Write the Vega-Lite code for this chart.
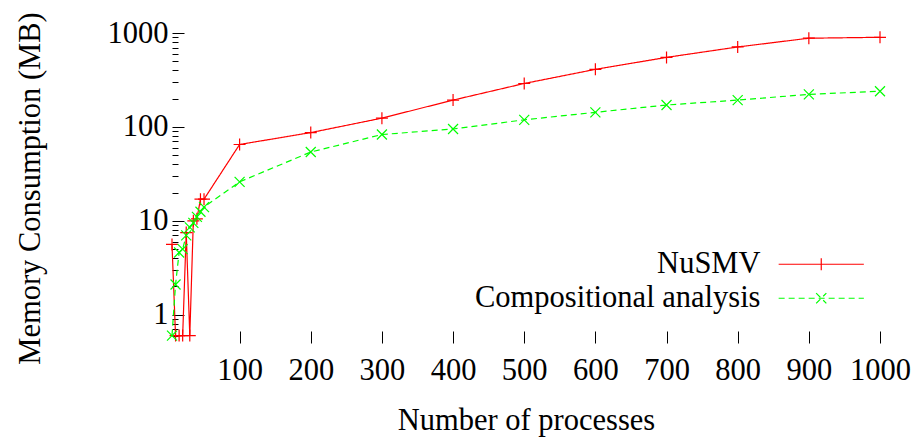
{
  "$schema": "https://vega.github.io/schema/vega-lite/v6.json",
  "autosize": {"type": "none"},
  "padding": {"left": 172, "top": 33, "right": 41, "bottom": 98},
  "width": 708,
  "height": 310,
  "background": "white",
  "config": {
    "view": {"stroke": null},
    "font": "Liberation Serif",
    "axis": {"labelFont": "Liberation Serif", "titleFont": "Liberation Serif", "labelFontSize": 30.5, "titleFontSize": 30.5, "titleFontWeight": "normal", "labelColor": "black", "titleColor": "black", "tickColor": "black", "grid": false, "domain": false}
  },
  "data": {"values": [
    {"n": 5, "mb": 5.6, "series": "NuSMV"},
    {"n": 10, "mb": 0.6, "series": "NuSMV"},
    {"n": 15, "mb": 0.6, "series": "NuSMV"},
    {"n": 20, "mb": 0.6, "series": "NuSMV"},
    {"n": 25, "mb": 7.5, "series": "NuSMV"},
    {"n": 30, "mb": 0.6, "series": "NuSMV"},
    {"n": 35, "mb": 10, "series": "NuSMV"},
    {"n": 40, "mb": 10.5, "series": "NuSMV"},
    {"n": 45, "mb": 17, "series": "NuSMV"},
    {"n": 50, "mb": 17, "series": "NuSMV"},
    {"n": 100, "mb": 65, "series": "NuSMV"},
    {"n": 200, "mb": 87, "series": "NuSMV"},
    {"n": 300, "mb": 124, "series": "NuSMV"},
    {"n": 400, "mb": 193, "series": "NuSMV"},
    {"n": 500, "mb": 290, "series": "NuSMV"},
    {"n": 600, "mb": 410, "series": "NuSMV"},
    {"n": 700, "mb": 550, "series": "NuSMV"},
    {"n": 800, "mb": 710, "series": "NuSMV"},
    {"n": 900, "mb": 880, "series": "NuSMV"},
    {"n": 1000, "mb": 900, "series": "NuSMV"},
    {"n": 5, "mb": 0.6, "series": "Compositional analysis"},
    {"n": 10, "mb": 2.1, "series": "Compositional analysis"},
    {"n": 15, "mb": 4.6, "series": "Compositional analysis"},
    {"n": 20, "mb": 5.0, "series": "Compositional analysis"},
    {"n": 25, "mb": 7.0, "series": "Compositional analysis"},
    {"n": 30, "mb": 8.5, "series": "Compositional analysis"},
    {"n": 35, "mb": 9.5, "series": "Compositional analysis"},
    {"n": 40, "mb": 11, "series": "Compositional analysis"},
    {"n": 45, "mb": 12.5, "series": "Compositional analysis"},
    {"n": 50, "mb": 14, "series": "Compositional analysis"},
    {"n": 100, "mb": 26, "series": "Compositional analysis"},
    {"n": 200, "mb": 54, "series": "Compositional analysis"},
    {"n": 300, "mb": 83, "series": "Compositional analysis"},
    {"n": 400, "mb": 95, "series": "Compositional analysis"},
    {"n": 500, "mb": 119, "series": "Compositional analysis"},
    {"n": 600, "mb": 143, "series": "Compositional analysis"},
    {"n": 700, "mb": 171, "series": "Compositional analysis"},
    {"n": 800, "mb": 193, "series": "Compositional analysis"},
    {"n": 900, "mb": 222, "series": "Compositional analysis"},
    {"n": 1000, "mb": 240, "series": "Compositional analysis"}
  ]},
  "encoding": {
    "x": {"field": "n", "type": "quantitative", "scale": {"domain": [5, 1000], "nice": false, "zero": false},
      "axis": {"title": "Number of processes", "format": "d", "values": [100, 200, 300, 400, 500, 600, 700, 800, 900, 1000], "tickSize": -12, "labelPadding": 24, "titlePadding": 20, "labelFlush": false}},
    "y": {"field": "mb", "type": "quantitative", "scale": {"type": "log", "domain": [0.5, 1000], "nice": false},
      "axis": {"title": "Memory Consumption (MB)", "format": "d",
        "values": [0.6, 0.7, 0.8, 0.9, 1, 2, 3, 4, 5, 6, 7, 8, 9, 10, 20, 30, 40, 50, 60, 70, 80, 90, 100, 200, 300, 400, 500, 600, 700, 800, 900, 1000],
        "labelExpr": "indexof([1,10,100,1000], datum.value) >= 0 ? datum.label : ''",
        "tickSize": {"condition": {"test": "indexof([1,10,100,1000], datum.value) >= 0", "value": -12}, "value": -6},
        "labelPadding": 16, "titlePadding": 62, "labelFlush": false}},
    "color": {"field": "series", "type": "nominal", "scale": {"domain": ["NuSMV", "Compositional analysis"], "range": ["#ff0000", "#00ff00"]}}
  },
  "layer": [
    {
      "mark": {"type": "line", "strokeWidth": 1.2},
      "encoding": {
        "strokeDash": {"field": "series", "type": "nominal", "scale": {"domain": ["NuSMV", "Compositional analysis"], "range": [[1, 0], [6, 4]]}},
        "color": {"field": "series", "type": "nominal", "scale": {"domain": ["NuSMV", "Compositional analysis"], "range": ["#ff0000", "#00ff00"]},
          "legend": {"title": null, "orient": "none", "legendX": 634, "legendY": 216, "padding": 0, "rowPadding": 3, "symbolSize": 144, "symbolStrokeWidth": 1.2, "labelFontSize": 30.5, "labelFont": "Liberation Serif", "labelColor": "black", "labelAlign": "right", "labelOffset": -76, "labelLimit": 0,
            "encode": {"symbols": {"update": {"shape": {"signal": "datum.value === 'NuSMV' ? 'M-7.1,0H7.1M0,-1V1' : 'M-7.1,0H7.1M-0.85,-0.85L0.85,0.85M-0.85,0.85L0.85,-0.85'"}}}}}}
      }
    },
    {
      "transform": [{"filter": "datum.series === 'NuSMV'"}],
      "mark": {"type": "point", "shape": "M-1,0H1M0,-1V1", "size": 144, "filled": false, "strokeWidth": 1.2, "opacity": 1}
    },
    {
      "transform": [{"filter": "datum.series === 'Compositional analysis'"}],
      "mark": {"type": "point", "shape": "M-1,-1L1,1M-1,1L1,-1", "size": 100, "filled": false, "strokeWidth": 1.2, "opacity": 1}
    }
  ]
}
